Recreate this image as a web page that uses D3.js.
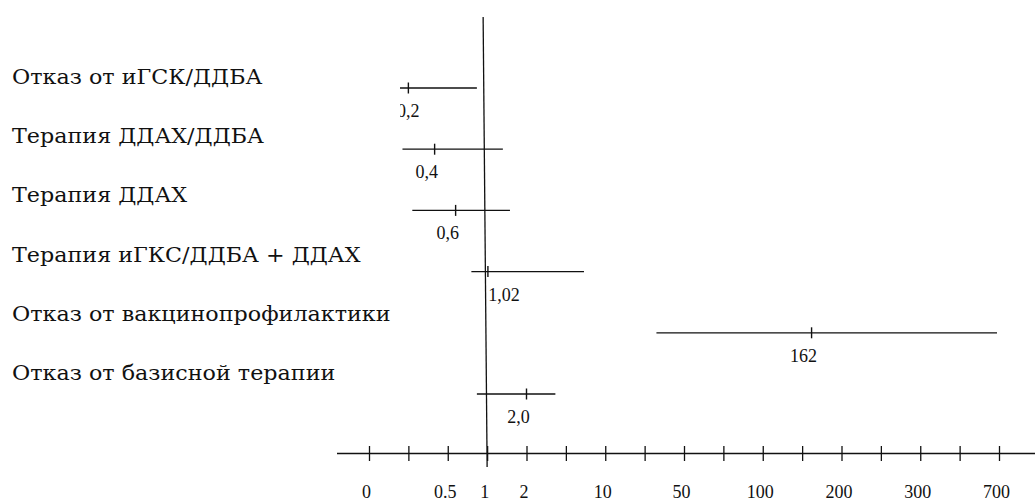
<!DOCTYPE html>
<html><head><meta charset="utf-8">
<script src="https://cdn.jsdelivr.net/npm/d3@7"></script>
<style>
body{margin:0;background:#fff;}
svg{display:block;}
text{fill:#111;}
.serif{font-family:"Liberation Serif","DejaVu Serif",serif;}
.cyr{font-family:"DejaVu Serif","Liberation Serif",serif;}
</style></head>
<body><svg id="c" width="1035" height="501"></svg>
<script>
const categories = ["Отказ от иГСК/ДДБА", "Терапия ДДАХ/ДДБА", "Терапия ДДАХ", "Терапия иГКС/ДДБА + ДДАХ", "Отказ от вакцинопрофилактики", "Отказ от базисной терапии"];
const estimates = [0.2, 0.4, 0.6, 1.02, 162, 2.0];
const estimateLabels = ["0,2", "0,4", "0,6", "1,02", "162", "2,0"];
const ciLower = [0.15, 0.17, 0.23, 0.80, 36, 0.87];
const ciUpper = [0.87, 1.40, 1.58, 7.3, 690, 4.2];
const axisTickValues = [0, 0.2, 0.5, 1, 2, 5, 10, 30, 50, 75, 100, 150, 200, 250, 300, 500, 700];
const axisTickLabels = ["0", "", "0.5", "1", "2", "", "10", "", "50", "", "100", "", "200", "", "300", "", "700"];

const svg = d3.select("#c");
const left = 369, right = 999, axisY = 453.5, clipLeft = 400, labelStretch = 1.06;
const step = (right - left) / (axisTickValues.length - 1);
const x = d3.scaleLinear().domain(axisTickValues).range(axisTickValues.map((d, i) => left + i * step));
const yCI = d3.scalePoint().domain(categories).range([88, 394]);
const yLab = d3.scalePoint().domain(categories).range([84, 380]);
const stroke = "#111";

// row labels
svg.append("g").attr("transform", `scale(${labelStretch},1)`)
  .selectAll("text").data(categories).join("text")
  .attr("class", "cyr")
  .attr("x", 12 / labelStretch).attr("y", d => yLab(d))
  .attr("font-size", 21).text(d => d);

// reference line at 1
svg.append("line").attr("x1", x(1) - 4).attr("y1", 17).attr("x2", x(1)).attr("y2", 467)
  .attr("stroke", stroke).attr("stroke-width", 1.3);

// axis
const axis = d3.axisBottom(x).tickValues(axisTickValues)
  .tickFormat((d, i) => axisTickLabels[i]).tickSizeInner(15).tickSizeOuter(0).tickPadding(0);
const ag = svg.append("g").attr("transform", `translate(0,${axisY})`).call(axis);
ag.select(".domain").remove();
ag.selectAll(".tick line").attr("y1", -7.5).attr("y2", 7.5).attr("stroke", stroke).attr("stroke-width", 1.3);
ag.selectAll(".tick text").attr("class", "serif").attr("y", 44).attr("dy", 0).attr("dx", -3)
  .attr("font-size", 18).attr("font-family", null).attr("fill", "#111");
ag.append("line").attr("x1", 337).attr("x2", 1035).attr("y1", 0).attr("y2", 0)
  .attr("stroke", stroke).attr("stroke-width", 1.3);

// clip for plot
svg.append("clipPath").attr("id", "plotclip").append("rect")
  .attr("x", clipLeft).attr("y", 0).attr("width", 1035 - clipLeft).attr("height", 445);
const pg = svg.append("g").attr("clip-path", "url(#plotclip)");

const rows = categories.map((c, i) => ({c, est: estimates[i], lab: estimateLabels[i], lo: ciLower[i], hi: ciUpper[i]}));
pg.selectAll("line.ci").data(rows).join("line").attr("class", "ci")
  .attr("x1", d => x(d.lo)).attr("x2", d => x(d.hi))
  .attr("y1", d => yCI(d.c)).attr("y2", d => yCI(d.c))
  .attr("stroke", stroke).attr("stroke-width", 1.3);
pg.selectAll("line.pt").data(rows).join("line").attr("class", "pt")
  .attr("x1", d => x(d.est)).attr("x2", d => x(d.est))
  .attr("y1", d => yCI(d.c) - 5.5).attr("y2", d => yCI(d.c) + 5.5)
  .attr("stroke", stroke).attr("stroke-width", 1.4);
pg.selectAll("text.lab").data(rows).join("text").attr("class", "lab serif")
  .attr("font-size", 18).text(d => d.lab)
  .attr("y", d => yCI(d.c) + 29)
  .attr("x", function(d) {
    const w = this.getComputedTextLength();
    let s = x(d.est) - 8 - w / 2;
    if (s < x(1) && s + w > x(1) - 3) s = x(1) + 1;
    return Math.max(s, clipLeft - 3);
  });
</script></body></html>
